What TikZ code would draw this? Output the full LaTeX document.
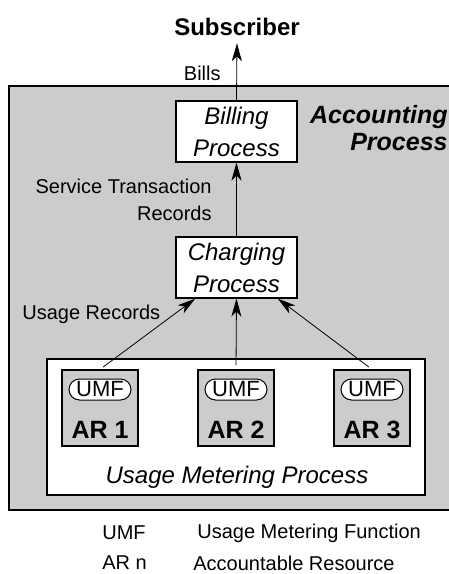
\documentclass[tikz,border=0pt]{standalone}
\usepackage{fontspec}
\setmainfont{Liberation Sans}
\usetikzlibrary{arrows.meta}

\begin{document}
\begin{tikzpicture}[x=0.5pt,y=-0.5pt,>={Stealth[length=9pt,width=5pt,inset=2.5pt]}]
	\tikzstyle{every node}=[inner sep=0pt]
	\tikzstyle{procbox}=[draw,fill=white,line width=0.6pt,minimum width=60.5pt,
		minimum height=30.5pt,align=center,font=\fontsize{12}{16}\selectfont\itshape]
	\tikzstyle{arbox}=[draw,fill=black!20,line width=0.6pt,minimum width=38pt,minimum height=38pt]
	\tikzstyle{umfbox}=[draw,fill=white,line width=0.5pt,rounded corners=5.25pt,
		minimum width=31pt,minimum height=10.5pt,font=\fontsize{11}{12}\selectfont]
	\tikzstyle{lbl}=[font=\fontsize{10}{13.5}\selectfont]
	\useasboundingbox (0,0) rectangle (449,574);
	\fill[black!20] (9,86) rectangle (449,510);
	\draw[line width=0.7pt] (449,86) -- (9,86) -- (9,510) -- (449,510);
	\node[draw,fill=white,line width=0.6pt,minimum width=189pt,minimum height=68pt] (ump) at (236,427) {};
	\foreach \i/\x in {1/100,2/236,3/372} {
		\node[arbox] (ar\i) at (\x,408) {};
		\node[umfbox] (umf\i) at (\x,389.5) {UMF};
		\node[font=\fontsize{12.5}{14}\selectfont\bfseries] (arl\i) at (\x,430) {AR \i};
	}
	\node[font=\fontsize{12}{14}\selectfont\itshape] (umplbl) at (237,477) {Usage Metering Process};
	\node[font=\fontsize{12}{14}\selectfont\bfseries,inner sep=3.5pt] (sub) at (237,27) {Subscriber};
	\node[procbox] (bill) at (236.5,131.5) {Billing\\Process};
	\node[procbox] (charge) at (236.5,267.5) {Charging\\Process};
	\node[lbl,anchor=east] (bills) at (221,73) {Bills};
	\node[font=\fontsize{12.5}{13.5}\selectfont\bfseries\itshape,align=right,anchor=east] (acct) at (448,128.5) {Accounting\\Process};
	\node[lbl,align=right,anchor=east] (str) at (212,199.5) {Service Transaction\\Records};
	\node[lbl,anchor=west] (ur) at (22,314) {Usage Records};
	\node[lbl,anchor=west] (lg1) at (102,533) {UMF};
	\node[lbl,anchor=west] (lg1t) at (197,533) {Usage Metering Function};
	\node[lbl,anchor=west] (lg2) at (102,563) {AR n};
	\node[lbl,anchor=west] (lg2t) at (193,563) {Accountable Resource};
	\draw[->] (bill.north) -- (sub.south);
	\draw[->] (charge.north) -- (bill.south);
	\draw[->,shorten <=2pt] (ar1.north) -- (charge.217);
	\draw[->,shorten <=2pt] (ar2.north) -- (charge.south);
	\draw[->,shorten <=2pt] (ar3.north) -- (charge.323);
\end{tikzpicture}
\end{document}
